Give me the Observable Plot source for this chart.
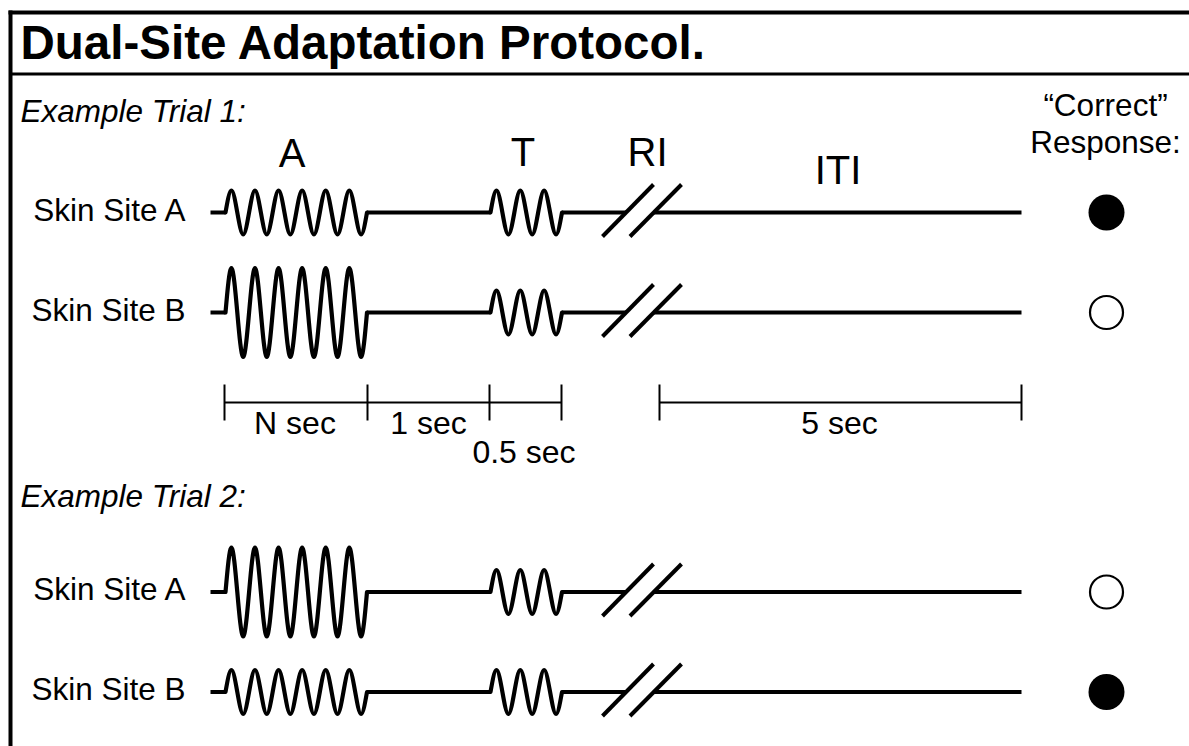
<!DOCTYPE html>
<html>
<head>
<meta charset="utf-8">
<script src="https://cdn.jsdelivr.net/npm/d3@7"></script>
<script src="https://cdn.jsdelivr.net/npm/@observablehq/plot@0.6"></script>
<style>
  html, body { margin: 0; padding: 0; background: #fff; }
  #chart svg { display: block; }
</style>
</head>
<body>
<div id="chart"></div>
<script>
// ---------- data (diagram units) ----------
const title = "Dual-Site Adaptation Protocol.";
const trialLabels = ["Example Trial 1:", "Example Trial 2:"];
const trialLabelY = [121.5, 506];

const siteLabels = ["Skin Site A", "Skin Site B", "Skin Site A", "Skin Site B"];
const rowBaseline = [212, 312, 591.5, 691.5];
const adaptorAmplitude = [22, 44.5, 44.5, 22];   // low / high adaptor
const testAmplitude = [22, 22, 22, 22];
const correctResponse = [true, false, false, true];

const lineStart = 210;
const lineEnd = 1021;
const adaptorStim = {name: "adaptor", start: 225, end: 366.5, cycles: 6};
const testStim = {name: "test", start: 490, end: 561.5, cycles: 3};
const slashX1 = [602, 629.5];   // lower ends of the "//" break
const slashX2 = [653, 681];     // upper ends
const slashBelow = 24, slashAbove = 28;

const phaseLabels = ["A", "T", "RI", "ITI"];
const phaseLabelX = [291.5, 522.5, 647, 837.5];
const phaseLabelY = [166, 165, 165, 183];

const timelineY = 402;
const timelineTicks = [224, 367, 489, 561, 659, 1021];
const timelineSpans = [[224, 561], [659, 1021]];
const durationLabels = ["N sec", "1 sec", "0.5 sec", "5 sec"];
const durationLabelX = [294.5, 428, 523.5, 839];
const durationLabelY = [433, 433, 462, 433];

const responseHeader = "\u201cCorrect\u201d\nResponse:";
const responseX = 1106;

// ---------- derived tables ----------
const font = "'Liberation Sans', Arial, Helvetica, sans-serif";

const wavePoints = d3.range(siteLabels.length).flatMap(i => {
  const stims = [
    {...adaptorStim, amp: adaptorAmplitude[i]},
    {...testStim, amp: testAmplitude[i]}
  ];
  return stims.flatMap(s => {
    const period = (s.end - s.start) / s.cycles;
    const pts = [{x: s.start, y: rowBaseline[i]}];
    for (let k = 0; k < 2 * s.cycles; k++) {
      pts.push({x: s.start + period * (k / 2 + 0.25),
                y: rowBaseline[i] + (k % 2 ? 1 : -1) * s.amp});
    }
    pts.push({x: s.end, y: rowBaseline[i]});
    return pts.map(p => ({...p, id: `${i}-${s.name}`}));
  });
});

// where each slash crosses the baseline
const crossX = slashX1.map((x1, j) => x1 + (slashBelow / (slashBelow + slashAbove)) * (slashX2[j] - x1));

const baselineSegs = rowBaseline.flatMap(y => [
  {x1: lineStart, x2: adaptorStim.start, y},
  {x1: adaptorStim.end, x2: testStim.start, y},
  {x1: testStim.end, x2: crossX[0], y},
  {x1: crossX[1], x2: lineEnd, y}
]);

const slashes = rowBaseline.flatMap(y => slashX1.map((x1, j) => ({
  x1, y1: y + slashBelow, x2: slashX2[j], y2: y - slashAbove
})));

const rows = siteLabels.map((label, i) => ({label, y: rowBaseline[i], correct: correctResponse[i]}));

const frame = [
  {x1: 8, y1: 12, x2: 1189, y2: 12, w: 4},
  {x1: 10, y1: 10, x2: 10, y2: 746, w: 4},
  {x1: 10, y1: 73.5, x2: 1189, y2: 73.5, w: 3}
];

const chart = Plot.plot({
  width: 1189,
  height: 746,
  margin: 0,
  x: {domain: [0, 1189], range: [0, 1189], axis: null},
  y: {domain: [0, 746], range: [0, 746], axis: null},
  style: {background: "white", fontFamily: font, color: "black", overflow: "visible"},
  marks: [
    // frame
    Plot.link(frame, {x1: "x1", y1: "y1", x2: "x2", y2: "y2", stroke: "black", strokeWidth: d => d.w}),
    // title
    Plot.text([title], {x: 20, y: 58.5, text: d => d, textAnchor: "start", lineAnchor: "bottom",
      fontSize: 47.5, fontWeight: "bold", fill: "black"}),
    // trial labels
    Plot.text(trialLabels, {x: 20, y: (d, i) => trialLabelY[i], text: d => d, textAnchor: "start",
      lineAnchor: "bottom", fontSize: 31.5, fontStyle: "italic", fill: "black"}),
    // phase labels
    Plot.text(phaseLabels, {x: (d, i) => phaseLabelX[i], y: (d, i) => phaseLabelY[i], text: d => d,
      lineAnchor: "bottom", fontSize: 40, fill: "black"}),
    // response header
    Plot.text([responseHeader], {x: 1105, y: 152, text: d => d, lineAnchor: "bottom",
      lineHeight: 1.15, fontSize: 31.5, fill: "black"}),
    // site labels
    Plot.text(rows, {x: 185, y: d => d.y + 8, text: "label", textAnchor: "end",
      lineAnchor: "bottom", fontSize: 31.5, fill: "black"}),
    // baselines
    Plot.link(baselineSegs, {x1: "x1", x2: "x2", y1: "y", y2: "y", stroke: "black", strokeWidth: 4,
      strokeLinecap: "butt"}),
    // waveforms
    Plot.line(wavePoints, {x: "x", y: "y", z: "id", curve: "monotone-x", stroke: "black",
      strokeWidth: 4.2, strokeLinecap: "round", strokeLinejoin: "round"}),
    // break marks
    Plot.link(slashes, {x1: "x1", y1: "y1", x2: "x2", y2: "y2", stroke: "black", strokeWidth: 4}),
    // responses
    Plot.dot(rows.filter(d => d.correct), {x: responseX, y: "y", r: 18, fill: "black", stroke: "none"}),
    Plot.dot(rows.filter(d => !d.correct), {x: responseX, y: "y", r: 16.5, fill: "white",
      stroke: "black", strokeWidth: 2.2}),
    // timeline
    Plot.link(timelineSpans, {x1: d => d[0], x2: d => d[1], y1: timelineY, y2: timelineY,
      stroke: "black", strokeWidth: 2}),
    Plot.link(timelineTicks, {x1: d => d, x2: d => d, y1: timelineY - 18, y2: timelineY + 18,
      stroke: "black", strokeWidth: 2}),
    Plot.text(durationLabels, {x: (d, i) => durationLabelX[i], y: (d, i) => durationLabelY[i],
      text: d => d, lineAnchor: "bottom", fontSize: 32, fill: "black"})
  ]
});

document.getElementById("chart").appendChild(chart);
</script>
</body>
</html>
